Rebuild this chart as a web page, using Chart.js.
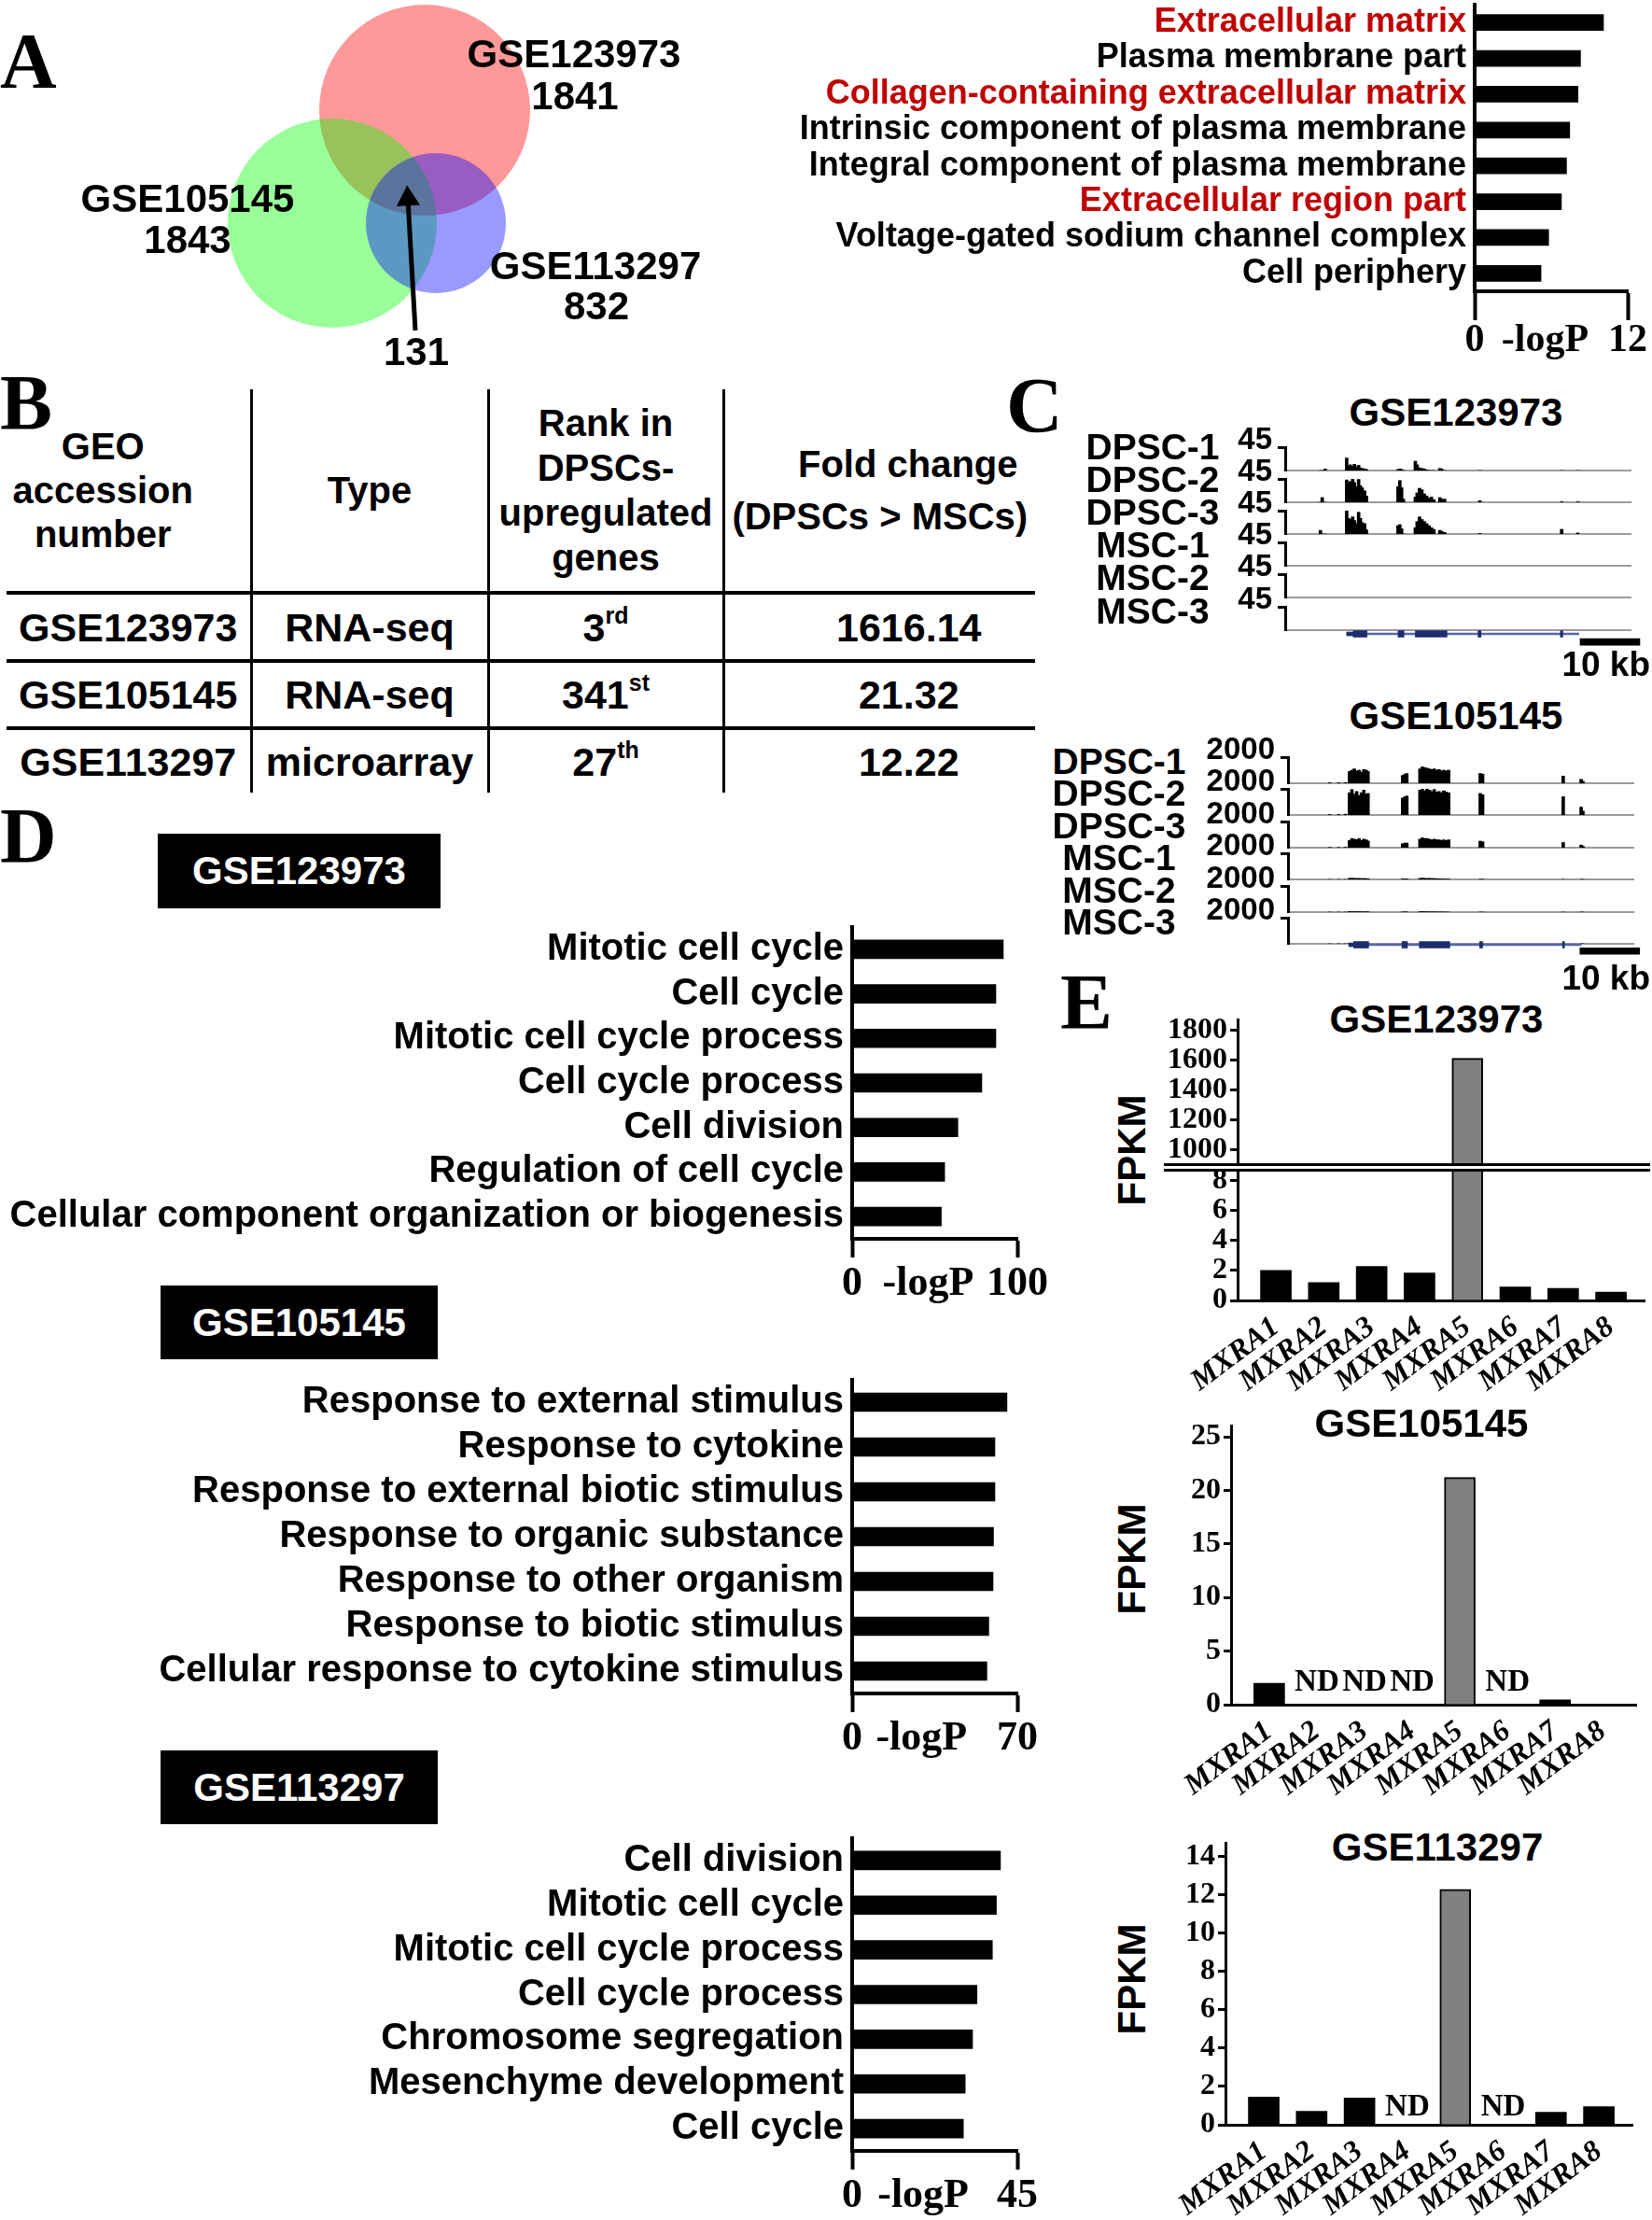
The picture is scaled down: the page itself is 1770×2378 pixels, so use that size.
<!DOCTYPE html>
<html>
<head>
<meta charset="utf-8">
<script src="https://cdn.jsdelivr.net/npm/chart.js@4.4.1/dist/chart.umd.min.js"></script>
<style>
  body { margin: 0; background: #fff; }
  #fig { position: relative; width: 1770px; height: 2378px; overflow: hidden; background: #fff; }
  #fig canvas { position: absolute; }
  .t { position: absolute; white-space: nowrap; line-height: 1; }
  .box { position: absolute; background: #000; color: #fff; display: flex; align-items: center; justify-content: center;
         font: bold 42px 'Liberation Sans', Arial, sans-serif; }
  table.geo { position: absolute; left: 7px; top: 417px; border-collapse: collapse; table-layout: fixed;
              font-family: 'Liberation Sans', Arial, sans-serif; font-weight: bold; }
  table.geo td { padding: 0; text-align: center; vertical-align: middle; }
  table.geo td + td { border-left: 3px solid #000; }
  table.geo tr.head td { font-size: 40px; line-height: 48px; height: 216px; border-bottom: 4px solid #000; }
  table.geo tr.row td { font-size: 43px; line-height: 46px; }
  table.geo tr.line td { border-bottom: 4px solid #000; }
  table.geo sup { font-size: 0.58em; line-height: 0; vertical-align: 0.75em; }
  .brk { position: absolute; left: 1247px; top: 1246px; width: 521px; height: 3px; background: #fff;
         border-top: 3px solid #000; border-bottom: 3px solid #000; z-index: 5; }
</style>
</head>
<body>
<div id="fig"></div>
<script>
const SANS = "'Liberation Sans', Arial, sans-serif";
const SERIF = "'Liberation Serif', 'Times New Roman', serif";

// ---- A: Venn diagram of DPSC-upregulated genes
const vennSets = ['GSE123973', 'GSE105145', 'GSE113297'];
const vennCounts = [1841, 1843, 832];
const vennCommon = 131;

// ---- A: GO cellular component of the 131 common genes
const goA = ['Extracellular matrix', 'Plasma membrane part', 'Collagen-containing extracellular matrix',
  'Intrinsic component of plasma membrane', 'Integral component of plasma membrane',
  'Extracellular region part', 'Voltage-gated sodium channel complex', 'Cell periphery'];
const goALogP = [10.1, 8.3, 8.1, 7.45, 7.2, 6.8, 5.8, 5.2];
const goAExtracellular = [1, 0, 1, 0, 0, 1, 0, 0];
const goAMax = 12;

// ---- B: table
const geoIds = ['GSE123973', 'GSE105145', 'GSE113297'];
const geoTypes = ['RNA-seq', 'RNA-seq', 'microarray'];
const geoRanks = ['3', '341', '27'];
const geoRankSuffix = ['rd', 'st', 'th'];
const geoFold = ['1616.14', '21.32', '12.22'];

// ---- C: coverage tracks (kb along the locus, signal per track)
const trackNames = ['DPSC-1', 'DPSC-2', 'DPSC-3', 'MSC-1', 'MSC-2', 'MSC-3'];
const c1Max = 45;
const c1Kb = [5.9, 6.2, 6.7, 10.3, 10.6, 10.9, 11.3, 11.6, 11.9, 12.3, 12.6, 12.9, 13.3, 13.6,
  18.9, 19.2, 19.5, 19.8, 21.8, 22.1, 22.5, 22.9, 23.3, 23.7, 24.1, 24.5, 24.9, 25.9, 26.2, 26.7, 32.6, 46.3, 49.0];
const c1Dpsc1 = [0, 0, 3, 24, 9, 11, 8, 12, 7, 10, 5, 4, 3, 2, 2, 3, 2, 0, 18, 11, 5, 4, 3, 1, 0, 0, 0, 4, 3, 0, 0, 0, 0];
const c1Dpsc2 = [0, 9, 0, 43, 36, 40, 45, 38, 30, 44, 32, 28, 22, 12, 30, 42, 28, 6, 10, 18, 27, 24, 16, 12, 8, 10, 5, 9, 6, 6, 3, 1, 1];
const c1Dpsc3 = [7, 0, 0, 45, 30, 28, 33, 26, 20, 42, 30, 22, 20, 8, 16, 18, 10, 0, 12, 24, 33, 28, 24, 20, 16, 12, 9, 7, 5, 3, 1, 9, 2];
const c1Msc = [];

const c2Max = 2000;
const c2Kb = [7.0, 8.5, 9.6, 10.3, 10.7, 11.1, 11.5, 11.9, 12.3, 12.7, 13.1, 13.4, 19.2, 19.6, 19.9,
  22.1, 22.5, 22.9, 23.3, 23.7, 24.1, 24.5, 24.9, 25.3, 25.7, 26.1, 26.5, 26.9, 32.2, 32.6, 46.1, 49.1, 49.4];
const c2Dpsc1 = [40, 40, 50, 900, 1000, 1100, 950, 1000, 850, 1050, 1000, 900, 600, 700, 750,
  1100, 1250, 1200, 1150, 1100, 1050, 1100, 1000, 1050, 950, 1000, 950, 1000, 750, 700, 550, 300, 150];
const c2Dpsc2 = [40, 40, 60, 1700, 1950, 1600, 1800, 1500, 1700, 1900, 1600, 1650, 1300, 1400, 1450,
  1900, 2000, 1850, 2000, 1900, 1800, 1950, 1750, 1800, 1700, 1850, 1750, 1700, 1650, 1550, 1400, 600, 300];
const c2Dpsc3 = [20, 20, 30, 550, 700, 650, 600, 700, 550, 650, 600, 500, 300, 350, 350,
  650, 750, 700, 700, 650, 600, 650, 600, 600, 550, 600, 550, 600, 500, 450, 400, 200, 100];
const c2Msc1 = [0, 0, 0, 80, 90, 80, 70, 80, 60, 70, 60, 50, 30, 40, 30,
  80, 90, 80, 70, 80, 60, 70, 50, 40, 30, 30, 20, 20, 10, 10, 0, 0, 0];
const c2Msc2 = [0, 0, 0, 40, 40, 30, 30, 40, 30, 20, 20, 20, 10, 10, 10,
  30, 40, 30, 30, 20, 20, 20, 10, 10, 10, 10, 0, 0, 0, 0, 0, 0, 0];
const c2Msc3 = [0, 0, 0, 20, 20, 10, 10, 20, 10, 10, 10, 10, 0, 0, 0,
  10, 20, 10, 10, 10, 10, 0, 0, 0, 0, 0, 0, 0, 0, 0, 0, 0, 0];

// gene model (kb) and scale bar
const gene1Span = [10.3, 49.2], gene1Utr = [10.3, 11.4];
const gene1Exons = [[11.4, 13.7], [18.9, 19.9], [21.8, 27.1], [32.3, 32.8], [46.1, 46.5]];
const gene2Span = [10.2, 49.1], gene2Utr = [10.2, 11.0];
const gene2Exons = [[11.0, 13.5], [19.1, 20.0], [22.0, 27.1], [32.1, 32.6], [46.0, 46.3]];
const scaleBarKb = 10;

// ---- D: GO biological process per dataset
const goD1 = ['Mitotic cell cycle', 'Cell cycle', 'Mitotic cell cycle process', 'Cell cycle process',
  'Cell division', 'Regulation of cell cycle', 'Cellular component organization or biogenesis'];
const goD1LogP = [91.5, 87, 87, 78.5, 64, 56, 54];
const goD2 = ['Response to external stimulus', 'Response to cytokine', 'Response to external biotic stimulus',
  'Response to organic substance', 'Response to other organism', 'Response to biotic stimulus',
  'Cellular response to cytokine stimulus'];
const goD2LogP = [65.6, 60.5, 60.5, 59.9, 59.7, 57.9, 57.1];
const goD3 = ['Cell division', 'Mitotic cell cycle', 'Mitotic cell cycle process', 'Cell cycle process',
  'Chromosome segregation', 'Mesenchyme development', 'Cell cycle'];
const goD3LogP = [40.4, 39.3, 38.2, 34.0, 32.8, 30.8, 30.3];
const goDMax = [100, 70, 45];

// ---- E: FPKM of MXRA family (null = ND)
const mxra = ['MXRA1', 'MXRA2', 'MXRA3', 'MXRA4', 'MXRA5', 'MXRA6', 'MXRA7', 'MXRA8'];
const fpkm123973 = [2.0, 1.2, 2.28, 1.84, 1614, 0.9, 0.8, 0.55];
const fpkm105145 = [2.0, null, null, null, 21.2, null, 0.45, 0];
const fpkm113297 = [1.45, 0.7, 1.4, null, 12.3, null, 0.65, 0.95];
const e1UpperTicks = [1000, 1200, 1400, 1600, 1800];
const e1LowerTicks = [0, 2, 4, 6, 8];
const e2Ticks = [0, 5, 10, 15, 20, 25];
const e3Ticks = [0, 2, 4, 6, 8, 10, 12, 14];

Chart.defaults.animation = false;
Chart.defaults.responsive = false;
Chart.defaults.events = [];
Chart.defaults.font.family = SANS;
Chart.defaults.color = '#000';
Chart.defaults.plugins.legend.display = false;
Chart.defaults.plugins.tooltip.enabled = false;

const fig = document.getElementById('fig');

function addCanvas(left, top, width, height) {
  const c = document.createElement('canvas');
  c.width = width; c.height = height;
  c.style.left = left + 'px'; c.style.top = top + 'px';
  fig.appendChild(c);
  return c;
}

function put(html, x, y, size, o = {}) {
  const d = document.createElement('div');
  d.className = 't';
  d.innerHTML = html;
  const tx = o.align === 'left' ? '0' : o.align === 'right' ? '-100%' : '-50%';
  d.style.left = x + 'px';
  d.style.top = y + 'px';
  d.style.font = `${o.style || ''} bold ${size}px ${o.family || SANS}`;
  d.style.lineHeight = '1';
  d.style.color = o.color || '#000';
  d.style.transform = `translate(${tx},-50%)` + (o.rotate ? ` rotate(${o.rotate}deg)` : '');
  fig.appendChild(d);
  return d;
}

// ---------- panel letters
put('A', 0, 66, 84, { family: SERIF, align: 'left' });
put('B', 0, 432, 84, { family: SERIF, align: 'left' });
put('C', 1078, 435, 84, { family: SERIF, align: 'left' });
put('D', 0, 896, 84, { family: SERIF, align: 'left' });
put('E', 1136, 1074, 84, { family: SERIF, align: 'left' });

// ---------- A: Venn
const vennLayout = [{ x: 455, y: 118, r: 113 }, { x: 356, y: 239, r: 112 }, { x: 467, y: 239, r: 75 }];
new Chart(addCanvas(0, 0, 760, 400), {
  type: 'bubble',
  data: {
    datasets: [
      { type: 'line', data: [{ x: 445, y: 354 }, { x: 437, y: 213 }], borderColor: '#000', borderWidth: 5,
        pointRadius: [0, 14.5], pointStyle: 'triangle', pointRotation: -3.2, pointBackgroundColor: '#000',
        pointBorderWidth: 0, clip: false },
      { data: vennLayout, backgroundColor: ['rgba(255,0,0,0.4)', 'rgba(0,255,0,0.4)', 'rgba(0,0,255,0.4)'],
        borderWidth: 0, clip: false }
    ]
  },
  options: {
    layout: { padding: 0, autoPadding: false },
    scales: {
      x: { type: 'linear', min: 0, max: 760, display: false },
      y: { type: 'linear', min: 0, max: 400, reverse: true, display: false }
    }
  }
});
put(vennSets[0], 615, 58, 42); put(String(vennCounts[0]), 616, 103, 42);
put(vennSets[1], 201, 213, 42); put(String(vennCounts[1]), 201, 257, 42);
put(vennSets[2], 638, 285, 42); put(String(vennCounts[2]), 639, 328, 42);
put(String(vennCommon), 446, 377, 42);

// ---------- horizontal GO bar charts
function goChart(o) {
  const padT = 40, padR = o.padR || 40;
  const c = addCanvas(o.left, o.top - padT, o.right + padR - o.left, o.bottom - o.top + padT + o.xH);
  new Chart(c, {
    type: 'bar',
    data: { labels: o.labels, datasets: [{ data: o.values, backgroundColor: '#000', barThickness: o.bar }] },
    options: {
      indexAxis: 'y',
      layout: { padding: { top: padT, right: padR, left: 0, bottom: 0 } },
      scales: {
        y: {
          grid: { display: false, drawTicks: false },
          border: { display: true, color: '#000', width: 4 },
          ticks: { font: { family: SANS, weight: 'bold', size: o.labelSize }, color: o.colors || '#000', padding: 9, autoSkip: false },
          afterFit: s => { s.width = o.axis - o.left; }
        },
        x: {
          type: 'linear', min: 0, max: o.max,
          grid: { display: true, drawOnChartArea: false, drawTicks: true, tickLength: o.tick, tickWidth: 4,
                  tickColor: ctx => ctx.index === 1 ? 'rgba(0,0,0,0)' : '#000' },
          border: { display: true, color: '#000', width: 4 },
          ticks: { font: { family: SERIF, weight: 'bold', size: o.tickSize }, color: '#000', padding: o.tickPad || 2,
                   maxRotation: 0, autoSkip: false, callback: (v, i) => i === 1 ? '-logP' : String(v) },
          afterBuildTicks: s => { s.ticks = [{ value: 0 }, { value: o.max * o.mid }, { value: o.max }]; },
          afterFit: s => { s.height = o.xH; }
        }
      }
    }
  });
}

goChart({ labels: goA, values: goALogP, max: goAMax, left: 820, axis: 1580, right: 1744, padR: 26, top: 5, bottom: 312,
  xH: 85, tick: 31, tickPad: -3, bar: 17, labelSize: 36, tickSize: 42, mid: 0.46,
  colors: ctx => goAExtracellular[ctx.index] ? '#c00000' : '#000' });

// ---------- B: table
(function () {
  let html = '<colgroup><col style="width:262px"><col style="width:254px"><col style="width:252px"><col style="width:334px"></colgroup>';
  html += '<tr class="head"><td style="padding-right:54px;line-height:47px">GEO<br>accession<br>number</td><td>Type</td>' +
    '<td>Rank in<br>DPSCs-<br>upregulated<br>genes</td>' +
    '<td style="line-height:56px"><span style="position:relative;left:30px">Fold change</span><br>(DPSCs &gt; MSCs)</td></tr>';
  const heights = [73, 72, 69];
  geoIds.forEach((id, i) => {
    html += `<tr class="row${i < 2 ? ' line' : ''}" style="height:${heights[i]}px"><td>${id}</td><td>${geoTypes[i]}</td>` +
      `<td>${geoRanks[i]}<sup>${geoRankSuffix[i]}</sup></td><td style="padding-left:62px">${geoFold[i]}</td></tr>`;
  });
  const t = document.createElement('table');
  t.className = 'geo';
  t.innerHTML = html;
  fig.appendChild(t);
})();

// ---------- C: coverage tracks
function trackChart(o) {
  const yW = 100, padT = 30, xH = 30;
  const c = addCanvas(o.left - yW, o.top - padT, yW + o.width, padT + o.height + xH);
  new Chart(c, {
    type: 'bar',
    data: { datasets: [{ data: o.values.map((v, i) => ({ x: o.kb[i], y: v })), backgroundColor: '#000', barThickness: o.bar }] },
    options: {
      layout: { padding: { top: padT, left: 0, right: 0, bottom: 0 } },
      scales: {
        x: { type: 'linear', min: 0, max: 58, offset: false, grid: { display: false, drawTicks: false },
             ticks: { display: false }, border: { display: true, color: '#9b9b9b', width: 2 },
             afterFit: s => { s.height = xH; } },
        y: { type: 'linear', min: 0, max: o.max,
             grid: { display: true, drawOnChartArea: false, drawTicks: true, tickLength: 8, tickWidth: 3, tickColor: '#000' },
             border: { display: true, color: '#000', width: 3 },
             ticks: { font: { family: SANS, weight: 'bold', size: 33 }, color: '#000', padding: 6, labelOffset: -7,
                      callback: v => String(v) },
             afterBuildTicks: s => { s.ticks = [{ value: o.max }]; },
             afterFit: s => { s.width = yW; } }
      }
    }
  });
}

function geneChart(o) {
  const width = 1770 - o.left;
  const kbMax = 58 * width / 371;
  const c = addCanvas(o.left, o.y - 15, width, 30);
  const GENE = '#1f2d6e';
  new Chart(c, {
    type: 'bar',
    data: {
      datasets: [
        { data: o.exons.map(e => ({ x: e, y: 0 })), backgroundColor: GENE, barThickness: 7, grouped: false },
        { data: [{ x: o.utr, y: 0 }], backgroundColor: GENE, barThickness: 4, grouped: false },
        { data: [{ x: o.span, y: 0 }], backgroundColor: '#5566aa', barThickness: 2, grouped: false },
        { data: [{ x: [o.barStart, o.barStart + scaleBarKb], y: o.barRow }], backgroundColor: '#000', barThickness: 7, grouped: false }
      ]
    },
    options: {
      indexAxis: 'y',
      layout: { padding: 0 },
      scales: {
        x: { type: 'linear', min: 0, max: kbMax, display: false },
        y: { type: 'linear', min: -1, max: 1, reverse: true, offset: false, display: false }
      }
    }
  });
}

// GSE123973 tracks
put('GSE123973', 1560, 442, 42);
const set1 = [c1Dpsc1, c1Dpsc2, c1Dpsc3, c1Msc, c1Msc, c1Msc];
set1.forEach((vals, i) => {
  const top = 479 + 34.1 * i;
  trackChart({ left: 1377, top, width: 371, height: 25.5, values: vals, kb: c1Kb, max: c1Max, bar: 3 });
  put(trackNames[i], 1235, top - 1 + i, 39);
});
geneChart({ left: 1377, y: 679, exons: gene1Exons, utr: gene1Utr, span: gene1Span, barStart: 49.4, barRow: 0.57 });
put('10 kb', 1768, 711, 37, { align: 'right' });

// GSE105145 tracks
put('GSE105145', 1560, 767, 42);
const set2 = [c2Dpsc1, c2Dpsc2, c2Dpsc3, c2Msc1, c2Msc2, c2Msc3];
set2.forEach((vals, i) => {
  const top = 811 + 34.4 * i;
  trackChart({ left: 1380, top, width: 371, height: 28, values: vals, kb: c2Kb, max: c2Max, bar: 3 });
  put(trackNames[i], 1199, top + 4, 39);
});
geneChart({ left: 1380, y: 1012, exons: gene2Exons, utr: gene2Utr, span: gene2Span, barStart: 48.9, barRow: 0.45 });
put('10 kb', 1768, 1047, 37, { align: 'right' });

// ---------- D: GO biological process
function titleBox(text, left, top, w, h) {
  const d = document.createElement('div');
  d.className = 'box';
  d.style.cssText = `left:${left}px;top:${top}px;width:${w}px;height:${h}px`;
  d.textContent = text;
  fig.appendChild(d);
}
titleBox('GSE123973', 169, 893, 303, 80);
titleBox('GSE105145', 172, 1377, 297, 79);
titleBox('GSE113297', 172, 1875, 297, 79);

goChart({ labels: goD1, values: goD1LogP, max: goDMax[0], left: 0, axis: 913, right: 1090, top: 993, bottom: 1327,
  xH: 75, tick: 20, bar: 20, labelSize: 40, tickSize: 44, mid: 0.46 });
goChart({ labels: goD2, values: goD2LogP, max: goDMax[1], left: 0, axis: 913, right: 1090, top: 1478, bottom: 1814,
  xH: 75, tick: 20, bar: 20, labelSize: 40, tickSize: 44, mid: 0.42 });
goChart({ labels: goD3, values: goD3LogP, max: goDMax[2], left: 0, axis: 913, right: 1090, top: 1969, bottom: 2304,
  xH: 75, tick: 20, bar: 20, labelSize: 40, tickSize: 44, mid: 0.43 });

// ---------- E: FPKM bar charts
const ndPlugin = {
  id: 'nd',
  afterDatasetsDraw(chart, args, opts) {
    if (!opts || !opts.values) return;
    const { ctx, scales: { x, y } } = chart;
    ctx.save();
    ctx.font = `bold 33px ${SERIF}`;
    ctx.textAlign = 'center';
    ctx.textBaseline = 'middle';
    ctx.fillStyle = '#000';
    opts.values.forEach((v, i) => {
      if (v === null) ctx.fillText('ND', x.getPixelForValue(i + 1), y.getPixelForValue(0) - opts.lift);
    });
    ctx.restore();
  }
};

function fpkmChart(o) {
  const canvasLeft = 1236, padT = 30, padB = o.showX ? 0 : 25, xH = o.showX ? 118 : 0;
  const c = addCanvas(canvasLeft, o.top - padT, 1770 - canvasLeft, padT + (o.bottom - o.top) + padB + xH);
  new Chart(c, {
    type: 'bar',
    data: {
      datasets: [{
        data: o.values.map((v, i) => ({ x: i + 1, y: v })),
        backgroundColor: ctx => ctx.index === 4 ? '#808080' : '#000',
        borderColor: '#000',
        borderWidth: ctx => ctx.index === 4 ? 2 : 0,
        barThickness: 33,
        clip: 0
      }]
    },
    options: {
      layout: { padding: { top: padT, right: 1770 - o.right, bottom: padB, left: 0 } },
      plugins: { nd: { values: o.nd ? o.values : null, lift: o.lift || 21 } },
      scales: {
        x: { type: 'linear', min: 0.2, max: 8.7, offset: false, display: o.showX,
             grid: { display: false, drawTicks: false },
             border: { display: true, color: '#000', width: 3 },
             ticks: { font: { family: SERIF, weight: 'bold', style: 'italic', size: 32 }, color: '#000',
                      maxRotation: 37, minRotation: 37, autoSkip: false, padding: 10,
                      callback: v => mxra[Math.round(v) - 1] },
             afterBuildTicks: s => { s.ticks = mxra.map((g, i) => ({ value: i + 1 })); },
             afterFit: s => { s.height = xH; } },
        y: { type: 'linear', min: o.min, max: o.max,
             grid: { display: true, drawOnChartArea: false, drawTicks: true, tickLength: 8, tickWidth: 3, tickColor: '#000' },
             border: { display: true, color: '#000', width: 3 },
             ticks: { font: { family: SERIF, weight: 'bold', size: 32 }, color: '#000', padding: 3, autoSkip: false,
                      callback: v => String(v) },
             afterBuildTicks: s => { s.ticks = o.ticks.map(v => ({ value: v })); },
             afterFit: s => { s.width = o.left - canvasLeft; } }
      }
    },
    plugins: [ndPlugin]
  });
}

// GSE123973 with broken axis
put('GSE123973', 1539, 1092, 42);
fpkmChart({ values: fpkm123973, left: 1326, right: 1762, top: 1092, bottom: 1249, min: 890, max: 1875, ticks: e1UpperTicks, showX: false });
fpkmChart({ values: fpkm123973, left: 1326, right: 1762, top: 1252, bottom: 1393, min: 0, max: 8.8, ticks: e1LowerTicks, showX: true });
const brk = document.createElement('div');
brk.className = 'brk';
fig.appendChild(brk);
put('FPKM', 1213, 1232, 42, { rotate: -90 });

put('GSE105145', 1523, 1525, 42);
fpkmChart({ values: fpkm105145, left: 1319, right: 1753, top: 1527, bottom: 1826, min: 0, max: 26.05, ticks: e2Ticks, showX: true, nd: true, lift: 24 });
put('FPKM', 1213, 1670, 42, { rotate: -90 });

put('GSE113297', 1540, 1979, 42);
fpkmChart({ values: fpkm113297, left: 1313, right: 1749, top: 1974, bottom: 2276, min: 0, max: 14.73, ticks: e3Ticks, showX: true, nd: true, lift: 19 });
put('FPKM', 1213, 2120, 42, { rotate: -90 });
</script>
</body>
</html>
